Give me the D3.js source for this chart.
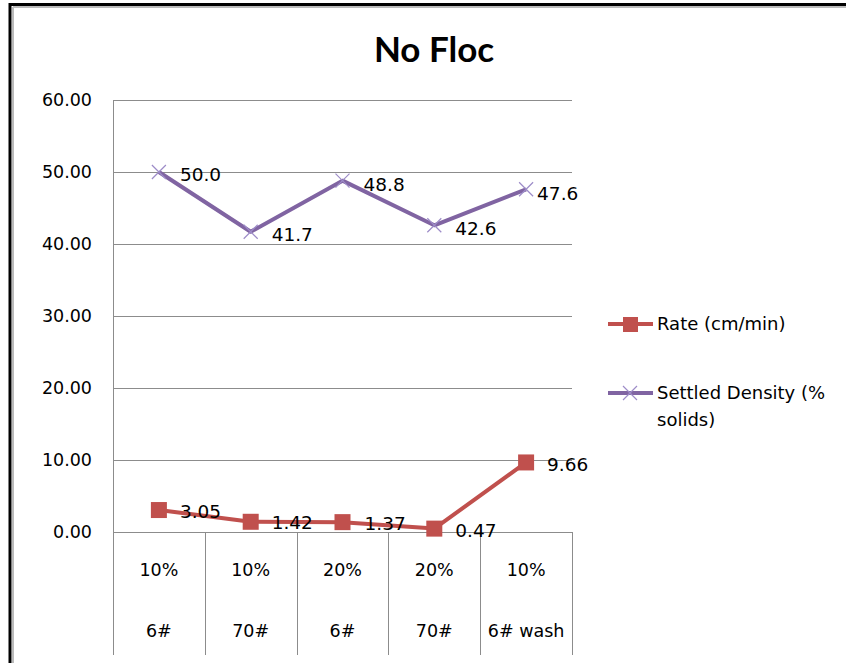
<!DOCTYPE html>
<html>
<head>
<meta charset="utf-8">
<script src="https://cdn.jsdelivr.net/npm/d3@7"></script>
<style>
  html, body { margin: 0; padding: 0; background: #fff; }
  svg { display: block; font-family: "DejaVu Sans", Verdana, sans-serif; }
</style>
</head>
<body>
<svg id="chart" width="846" height="663"></svg>
<script>
// Sample groups: floc concentration and screen size
const concentrations = ["10%", "10%", "20%", "20%", "10%"];
const screens = ["6#", "70#", "6#", "70#", "6# wash"];
const rateValues = [3.05, 1.42, 1.37, 0.47, 9.66];
const densityValues = [50.0, 41.7, 48.8, 42.6, 47.6];
const rateLabels = ["3.05", "1.42", "1.37", "0.47", "9.66"];
const densityLabels = ["50.0", "41.7", "48.8", "42.6", "47.6"];
const yTicks = [0, 10, 20, 30, 40, 50, 60];
const seriesNames = ["Rate (cm/min)", "Settled Density (% solids)"];

const svg = d3.select("#chart");
const plot = { left: 113, right: 572, top: 100, bottom: 532, axisBottom: 655 };

const x = d3.scaleBand().domain(d3.range(screens.length)).range([plot.left, plot.right]).padding(0);
const y = d3.scaleLinear().domain([0, 60]).range([plot.bottom, plot.top]);
const cx = i => x(i) + x.bandwidth() / 2;

// frame
svg.append("line").attr("x1", 9).attr("x2", 846).attr("y1", 4.5).attr("y2", 4.5).attr("stroke", "#000").attr("stroke-width", 3);
svg.append("line").attr("x1", 10).attr("x2", 10).attr("y1", 3).attr("y2", 663).attr("stroke", "#000").attr("stroke-width", 3);
svg.append("line").attr("x1", 13).attr("x2", 846).attr("y1", 7).attr("y2", 7).attr("stroke", "#bbb").attr("stroke-width", 2);
svg.append("line").attr("x1", 13).attr("x2", 13).attr("y1", 7).attr("y2", 663).attr("stroke", "#bbb").attr("stroke-width", 2);

// title
svg.append("text").attr("x", 434).attr("y", 62).attr("text-anchor", "middle")
  .attr("font-family", "Lato, sans-serif")
  .attr("font-size", 35).attr("font-weight", "bold").attr("fill", "#000").text("No Floc");

// gridlines and y axis
const yAxis = d3.axisLeft(y).tickValues(yTicks).tickSize(-(plot.right - plot.left)).tickPadding(21)
  .tickFormat(d3.format(".2f"));
const gy = svg.append("g").attr("transform", `translate(${plot.left},0)`).call(yAxis);
gy.select(".domain").remove();
gy.selectAll(".tick line").attr("stroke", "#8c8c8c").attr("stroke-width", 1).attr("shape-rendering", "crispEdges");
gy.selectAll(".tick text").attr("font-size", 17.5).attr("fill", "#000").attr("font-family", "'DejaVu Sans', sans-serif");

// left axis line and category separators
svg.append("line").attr("x1", plot.left + 0.5).attr("x2", plot.left + 0.5).attr("y1", plot.top).attr("y2", plot.axisBottom)
  .attr("stroke", "#8c8c8c");
d3.range(1, screens.length + 1).forEach(i => {
  const xx = Math.round(x(i - 1) + x.bandwidth()) + 0.5;
  svg.append("line").attr("x1", xx).attr("x2", xx).attr("y1", plot.bottom).attr("y2", plot.axisBottom).attr("stroke", "#8c8c8c");
});

// category labels (two rows)
const cats = svg.append("g").attr("font-size", 17.5).attr("fill", "#000").attr("text-anchor", "middle");
concentrations.forEach((c, i) => {
  cats.append("text").attr("x", cx(i)).attr("y", 576).text(c);
  cats.append("text").attr("x", cx(i)).attr("y", 637).text(screens[i]);
});

const line = d3.line().x((d, i) => cx(i)).y(d => y(d));

// settled density series
svg.append("path").datum(densityValues).attr("d", line).attr("fill", "none")
  .attr("stroke", "#8064A2").attr("stroke-width", 4).attr("stroke-linejoin", "round");
densityValues.forEach((v, i) => {
  const px = cx(i), py = y(v), s = 7;
  svg.append("path").attr("d", `M${px - s},${py - s}L${px + s},${py + s}M${px - s},${py + s}L${px + s},${py - s}`)
    .attr("stroke", "#9d8cc8").attr("stroke-width", 1.2);
});

// rate series
svg.append("path").datum(rateValues).attr("d", line).attr("fill", "none")
  .attr("stroke", "#C0504D").attr("stroke-width", 4).attr("stroke-linejoin", "round");
rateValues.forEach((v, i) => {
  svg.append("rect").attr("x", cx(i) - 8).attr("y", y(v) - 8).attr("width", 16).attr("height", 16)
    .attr("fill", "#C0504D");
});

// value labels to the right of each point
const densityNudge = [[21, 2], [21, 3], [21, 3.5], [21, 3], [11, 4]];
const rateNudge = [[21, 1.5], [21, 1], [22, 1], [21, 2], [21, 2]];
const labels = svg.append("g").attr("font-size", 18.5).attr("fill", "#000");
densityValues.forEach((v, i) => {
  labels.append("text").attr("x", cx(i) + densityNudge[i][0]).attr("y", y(v) + densityNudge[i][1])
    .attr("dy", "0.36em").text(densityLabels[i]);
});
rateValues.forEach((v, i) => {
  labels.append("text").attr("x", cx(i) + rateNudge[i][0]).attr("y", y(v) + rateNudge[i][1])
    .attr("dy", "0.36em").text(rateLabels[i]);
});

// legend
const lg = svg.append("g").attr("font-size", 18).attr("fill", "#000");
lg.append("line").attr("x1", 608).attr("x2", 653).attr("y1", 324).attr("y2", 324).attr("stroke", "#C0504D").attr("stroke-width", 4);
lg.append("rect").attr("x", 623).attr("y", 317).attr("width", 15).attr("height", 15).attr("fill", "#C0504D");
lg.append("text").attr("x", 657).attr("y", 324).attr("dy", "0.36em").text(seriesNames[0]);
lg.append("line").attr("x1", 608).attr("x2", 653).attr("y1", 393).attr("y2", 393).attr("stroke", "#8064A2").attr("stroke-width", 4);
lg.append("path").attr("d", "M623,386L637,400M623,400L637,386").attr("stroke", "#9d8cc8").attr("stroke-width", 1.2);
const t2 = lg.append("text").attr("x", 657).attr("y", 393).attr("dy", "0.36em");
t2.append("tspan").attr("x", 657).text("Settled Density (%");
t2.append("tspan").attr("x", 657).attr("dy", "1.45em").text("solids)");
</script>
</body>
</html>
